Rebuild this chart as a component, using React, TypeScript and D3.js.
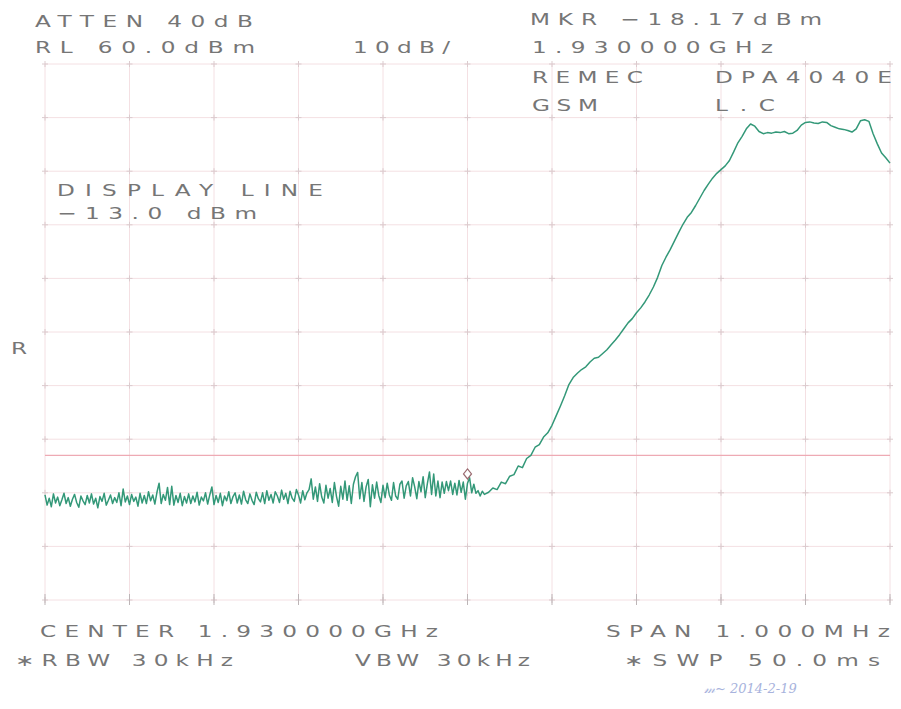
import React from "react";
import * as d3 from "d3";

// ---- data ----
const SPAN_KHZ = [-500, 500];
const REF_LEVEL = 60;
const DB_PER_DIV = 10;
const DISPLAY_LINE = -13.0;
const MARKER_KHZ = 0;
const MARKER_DBM = -18.17;

// noise floor, 2.5 kHz steps from -500 kHz to +20 kHz
const NOISE_STEP = 2.5;
const noiseLevels = [
  -20.4,-22.3,-21.0,-22.6,-20.2,-21.9,-20.8,-22.4,-21.3,-20.1,
  -22.0,-20.9,-22.5,-21.2,-20.3,-21.8,-22.7,-20.6,-21.5,-22.2,
  -20.5,-21.9,-20.2,-22.1,-21.0,-22.8,-20.7,-21.6,-20.1,-22.3,
  -21.4,-20.4,-22.0,-20.9,-21.8,-20.0,-22.4,-19.3,-21.7,-20.6,
  -22.2,-20.3,-21.6,-20.8,-22.5,-20.1,-21.9,-20.5,-22.0,-19.8,
  -21.5,-20.4,-22.1,-19.9,-18.2,-22.0,-20.3,-21.4,-19.0,-22.2,
  -18.8,-22.3,-20.5,-21.8,-20.1,-22.4,-20.7,-21.9,-20.2,-22.0,
  -20.6,-21.7,-19.9,-22.3,-20.8,-21.5,-20.0,-22.1,-20.4,-18.9,
  -22.2,-20.5,-21.8,-20.1,-22.4,-20.6,-21.5,-19.8,-22.0,-20.7,
  -20.0,-21.9,-20.4,-22.1,-19.7,-21.3,-22.0,-20.2,-21.4,-22.2,
  -19.9,-21.1,-21.7,-20.0,-22.0,-19.6,-21.4,-20.3,-21.9,-19.8,
  -20.6,-21.8,-19.5,-21.2,-20.1,-22.0,-19.7,-21.0,-21.6,-19.4,
  -20.4,-21.9,-19.6,-21.3,-20.0,
  -19.4,-17.4,-21.2,-18.9,-21.6,-18.3,-20.8,-21.9,-18.6,-21.0,
  -19.2,-21.8,-18.1,-20.7,-22.5,-18.8,-21.2,-17.8,-21.4,-18.7,
  -22.0,-18.4,-17.0,-16.2,-21.1,-18.1,-21.6,-18.9,-17.5,-22.6,
  -18.5,-21.0,-18.0,-20.5,-21.8,-18.6,-20.9,-18.2,-20.4,-21.4,
  -18.1,-20.6,-21.2,-18.4,-17.8,-21.0,-18.7,-17.9,-20.6,-17.2,
  -18.9,-21.1,-17.9,-19.8,-17.0,-20.9,-18.3,-16.1,-20.3,-16.5,
  -20.6,-17.8,-20.9,-18.0,-20.1,-17.9,
  -19.6,-17.8,-20.3,-18.2,-20.4,-17.7,-19.9,-18.0,-21.2,-18.2,
  -17.2,-20.0,-18.4,-20.1,-19.6,-20.6,-19.7,-20.3,
];

// filter skirt and passband, 5 kHz steps from +25 kHz to +500 kHz
const RISE_START = 25;
const RISE_STEP = 5;
const riseLevels = [
  -19.9,-19.1,-19.4,-18.0,-18.3,-16.9,-16.6,-15.0,-15.3,-13.6,
  -13.0,-11.5,-11.0,-9.6,-8.8,-7.4,-5.6,-3.8,-1.9,0.2,
  1.5,2.3,3.0,3.5,4.4,5.1,5.3,6.0,6.7,7.6,
  8.5,9.5,10.6,11.7,12.5,13.6,14.5,15.6,16.9,18.4,
  20.2,22.4,24.0,25.4,27.0,28.6,30.1,31.4,32.3,33.6,
  35.0,36.4,37.6,38.7,39.6,40.3,41.0,42.0,43.6,45.3,
  46.5,47.9,48.8,48.4,47.4,47.0,47.2,47.1,47.3,47.2,
  47.4,47.0,47.1,47.6,48.6,49.1,49.2,49.0,48.9,49.2,
  49.1,48.5,48.2,47.9,47.8,47.6,47.3,47.9,49.4,49.6,
  49.3,47.0,45.1,43.4,42.5,41.5,
];

const headerLeft = ["ATTEN 40dB", "RL 60.0dBm"];
const scaleLabel = "10dB/";
const markerLabels = ["MKR \u221218.17dBm", "1.930000GHz"];
const titleLabels = ["REMEC", "DPA4040E", "GSM", "L.C"];
const displayLineLabels = ["DISPLAY LINE", "\u221213.0 dBm"];
const footerLabels = ["CENTER 1.930000GHz", "SPAN 1.000MHz", "\u2217RBW 30kHz", "VBW 30kHz", "\u2217SWP 50.0ms"];

export default function App() {
  const W = 901, H = 709;
  const x = d3.scaleLinear().domain(SPAN_KHZ).range([45, 890]);
  const y = d3.scaleLinear().domain([REF_LEVEL - 10 * DB_PER_DIV, REF_LEVEL]).range([600, 64]);

  const trace: [number, number][] = [
    ...noiseLevels.map((v, i) => [SPAN_KHZ[0] + i * NOISE_STEP, v] as [number, number]),
    ...riseLevels.map((v, i) => [RISE_START + i * RISE_STEP, v] as [number, number]),
  ];
  const line = d3.line<[number, number]>().x(d => x(d[0])).y(d => y(d[1]));

  const xTicks = d3.range(SPAN_KHZ[0], SPAN_KHZ[1] + 1, 100);
  const yTicks = d3.range(REF_LEVEL - 100, REF_LEVEL + 1, DB_PER_DIV);

  const SX = 1.45;
  const T = (s: string, px: number, py: number, w?: number) => (
    <text
      transform={`translate(${px},${py}) scale(${SX},1)`}
      fontFamily="'DejaVu Sans', sans-serif"
      fontSize={16}
      fill="#767676"
      textLength={w ? w / SX : undefined}
      lengthAdjust={w ? "spacing" : undefined}
    >{s}</text>
  );

  const mx = x(MARKER_KHZ), my = y(MARKER_DBM) - 9;

  return (
    <svg width={W} height={H} style={{ position: "absolute", left: 0, top: 0, background: "#fff" }}>
      {/* grid */}
      <g>
        {xTicks.map(t => (
          <line key={"vx" + t} x1={x(t)} x2={x(t)} y1={y.range()[1]} y2={y.range()[0]} stroke="#f4e0e3" strokeWidth={1} />
        ))}
        {yTicks.map(t => (
          <line key={"hy" + t} x1={x.range()[0]} x2={x.range()[1]} y1={y(t)} y2={y(t)} stroke="#f4e0e3" strokeWidth={1} />
        ))}
        {xTicks.map(t => yTicks.map(u => (
          <g key={`c${t}_${u}`} stroke="#dccbce" strokeWidth={1}>
            <line x1={x(t) - 3} x2={x(t) + 3} y1={y(u)} y2={y(u)} />
            <line x1={x(t)} x2={x(t)} y1={y(u) - 3} y2={y(u) + 3} />
          </g>
        )))}
        {xTicks.map(t => (
          <line key={"bt" + t} x1={x(t)} x2={x(t)} y1={y.range()[0] - 6} y2={y.range()[0] + 5} stroke="#bdb5b7" strokeWidth={1} />
        ))}
        {/* display line */}
        <line x1={x.range()[0]} x2={x.range()[1]} y1={y(DISPLAY_LINE)} y2={y(DISPLAY_LINE)} stroke="#eeaab4" strokeWidth={1.2} />
      </g>

      {/* trace */}
      <path d={line(trace) || ""} fill="none" stroke="#339878" strokeWidth={1.5} strokeLinejoin="round" />

      {/* marker */}
      <path d={`M${mx},${my - 5}L${mx + 4},${my}L${mx},${my + 5}L${mx - 4},${my}Z`} fill="#fff" stroke="#9a6a70" strokeWidth={1.2} />

      {/* annotations */}
      {T(headerLeft[0], 35, 27, 218)}
      {T(headerLeft[1], 35, 53, 220)}
      {T(scaleLabel, 353, 53, 97)}
      {T(markerLabels[0], 530, 25, 292)}
      {T(markerLabels[1], 532, 53, 241)}
      {T(titleLabels[0], 532, 83, 111)}
      {T(titleLabels[1], 715, 83, 177)}
      {T(titleLabels[2], 532, 111, 66)}
      {T(titleLabels[3], 715, 111, 60)}
      {T(displayLineLabels[0], 57, 196, 266)}
      {T(displayLineLabels[1], 57, 219, 200)}
      {T("R", 11, 354)}
      {T(footerLabels[0], 40, 637, 398)}
      {T(footerLabels[1], 606, 637, 284)}
      {T(footerLabels[2], 15, 666, 218)}
      {T(footerLabels[3], 355, 666, 175)}
      {T(footerLabels[4], 624, 666, 256)}

      {/* handwritten signature */}
      <text x={704} y={693} fontFamily="'DejaVu Serif', serif" fontStyle="italic" fontSize={13} fill="#a8b3dd">
        𝓂~ 2014-2-19
      </text>
    </svg>
  );
}
